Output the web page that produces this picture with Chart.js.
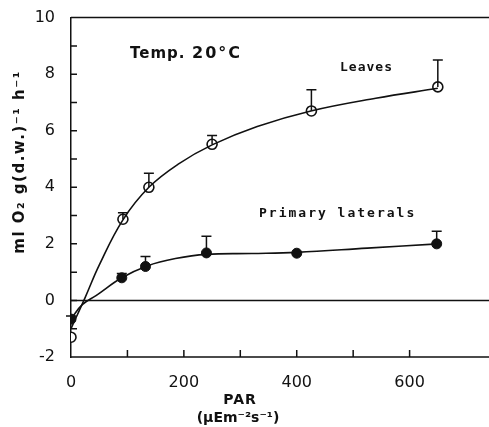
<!DOCTYPE html>
<html>
<head>
<meta charset="utf-8">
<script src="https://cdn.jsdelivr.net/npm/chart.js@4.4.0/dist/chart.umd.min.js"></script>
<style>
  body { margin: 0; background: #fff; }
  #wrap { width: 489px; height: 427px; }
</style>
</head>
<body>
<div id="wrap"><canvas id="statsChart" width="489" height="427"></canvas></div>
<script>
// measured points (PAR, ml O2 per g dw per h)
const leafX = [0, 92, 138, 250, 426, 650];
const leafY = [-1.3, 2.87, 4.0, 5.52, 6.7, 7.55];
const leafErrTop = [-1.3, 3.1, 4.5, 5.83, 7.45, 8.5];

const latX = [0, 90, 132, 240, 400, 648];
const latY = [-0.66, 0.8, 1.2, 1.68, 1.67, 2.0];
const latErrTop = [-0.55, 0.95, 1.55, 2.27, 1.72, 2.45];

// fitted curves
const leafCurveX = [0, 25, 50, 92, 138, 190, 250, 330, 425, 540, 650];
const leafCurveY = [-1.0, 0.1, 1.25, 2.85, 4.0, 4.82, 5.5, 6.15, 6.7, 7.15, 7.5];
const latCurveX = [0, 20, 45, 90, 135, 185, 240, 320, 400, 525, 650];
const latCurveY = [-0.65, -0.15, 0.18, 0.8, 1.22, 1.48, 1.63, 1.66, 1.7, 1.85, 2.0];

const xTicks = [0, 200, 400, 600];
const yTicks = [-2, 0, 2, 4, 6, 8, 10];

function pts(xs, ys) {
    var out = [];
    for (var i = 0; i < xs.length; i++) out.push({x: xs[i], y: ys[i]});
    return out;
}

const fontFam = '"DejaVu Sans", sans-serif';

const extras = {
    id: 'extras',
    afterDatasetsDraw(chart) {
        const c = chart.ctx, xs = chart.scales.x, ys = chart.scales.y, a = chart.chartArea;
        c.save();
        c.strokeStyle = '#111';
        c.lineWidth = 1.5;
        // top frame line, zero line, bottom axis run to the edge
        c.beginPath();
        c.moveTo(a.left, a.top); c.lineTo(489, a.top);
        c.moveTo(a.left, ys.getPixelForValue(0)); c.lineTo(489, ys.getPixelForValue(0));
        c.moveTo(a.left, ys.getPixelForValue(-2)); c.lineTo(489, ys.getPixelForValue(-2));
        c.stroke();
        // inward tick marks
        c.beginPath();
        for (var v = 100; v <= 600; v += 100) {
            var px = xs.getPixelForValue(v);
            c.moveTo(px, a.bottom); c.lineTo(px, a.bottom - 7);
        }
        for (var w = -1; w <= 9; w++) {
            var py = ys.getPixelForValue(w);
            c.moveTo(a.left, py); c.lineTo(a.left + 6, py);
        }
        c.stroke();
        // error bars (upper only)
        function bars(xv, yv, tv) {
            c.beginPath();
            for (var i = 0; i < xv.length; i++) {
                var bx = xs.getPixelForValue(xv[i]);
                var y0 = ys.getPixelForValue(yv[i]);
                var y1 = ys.getPixelForValue(tv[i]);
                if (y0 - y1 < 2) continue;
                c.moveTo(bx, y0); c.lineTo(bx, y1);
                c.moveTo(bx - 5, y1); c.lineTo(bx + 5, y1);
            }
            c.stroke();
        }
        bars(leafX, leafY, leafErrTop);
        bars(latX, latY, latErrTop);
        // labels
        c.fillStyle = '#111';
        c.textBaseline = 'middle';
        c.font = 'bold 15px ' + fontFam;
        c.letterSpacing = '1px';
        c.fillText('Temp.', 130, 54);
        c.font = 'bold 16px ' + fontFam;
        c.letterSpacing = '2px';
        c.fillText('20°C', 192, 54);
        c.font = 'bold 13px "DejaVu Sans Mono", monospace';
        c.letterSpacing = '1px';
        c.fillText('Leaves', 340, 68);
        c.letterSpacing = '2px';
        c.fillText('Primary laterals', 259, 214);
        // axis titles
        c.letterSpacing = '1px';
        c.textAlign = 'center';
        c.font = 'bold 14px ' + fontFam;
        c.fillText('PAR', 240, 400);
        c.letterSpacing = '0px';
        c.fillText('(μEm⁻²s⁻¹)', 238, 418);
        c.translate(20, 162);
        c.rotate(-Math.PI / 2);
        c.font = 'bold 15px ' + fontFam;
        c.letterSpacing = '1.5px';
        c.fillText('ml O₂ g(d.w.)⁻¹ h⁻¹', 0, 0);
        c.restore();
    }
};

const ctx = document.getElementById('statsChart').getContext('2d');
const myChart = new Chart(ctx, {
    type: 'scatter',
    data: {
        datasets: [
            {
                data: pts(leafCurveX, leafCurveY),
                showLine: true,
                borderColor: '#111',
                borderWidth: 1.6,
                pointRadius: 0,
                tension: 0.4
            },
            {
                data: pts(latCurveX, latCurveY),
                showLine: true,
                borderColor: '#111',
                borderWidth: 1.6,
                pointRadius: 0,
                tension: 0.4
            },
            {
                data: pts(leafX, leafY),
                pointRadius: 5,
                pointBackgroundColor: '#fff',
                pointBorderColor: '#111',
                pointBorderWidth: 1.6
            },
            {
                data: pts(latX, latY),
                pointRadius: 5,
                pointBackgroundColor: '#111',
                pointBorderColor: '#111',
                pointBorderWidth: 1
            }
        ]
    },
    options: {
        responsive: false,
        animation: false,
        layout: { padding: { top: 4, right: 0, left: 0, bottom: 0 } },
        plugins: { legend: { display: false }, tooltip: { enabled: false } },
        scales: {
            x: {
                type: 'linear',
                min: 0,
                max: 729,
                afterBuildTicks: function(s) { s.ticks = xTicks.map(function(v) { return {value: v}; }); },
                afterFit: function(s) { s.height = 70; },
                grid: { display: false },
                border: { display: false },
                ticks: { color: '#111', padding: 8, font: { size: 16, family: fontFam }, maxRotation: 0 },
                title: { display: false }
            },
            y: {
                min: -2,
                max: 10,
                afterBuildTicks: function(s) { s.ticks = yTicks.map(function(v) { return {value: v}; }); },
                afterFit: function(s) { s.width = 71; },
                grid: { display: false },
                border: { color: '#111', width: 1.5 },
                ticks: { color: '#111', padding: 8, font: { size: 16, family: fontFam } },
                title: { display: false }
            }
        }
    },
    plugins: [extras]
});
</script>
</body>
</html>
